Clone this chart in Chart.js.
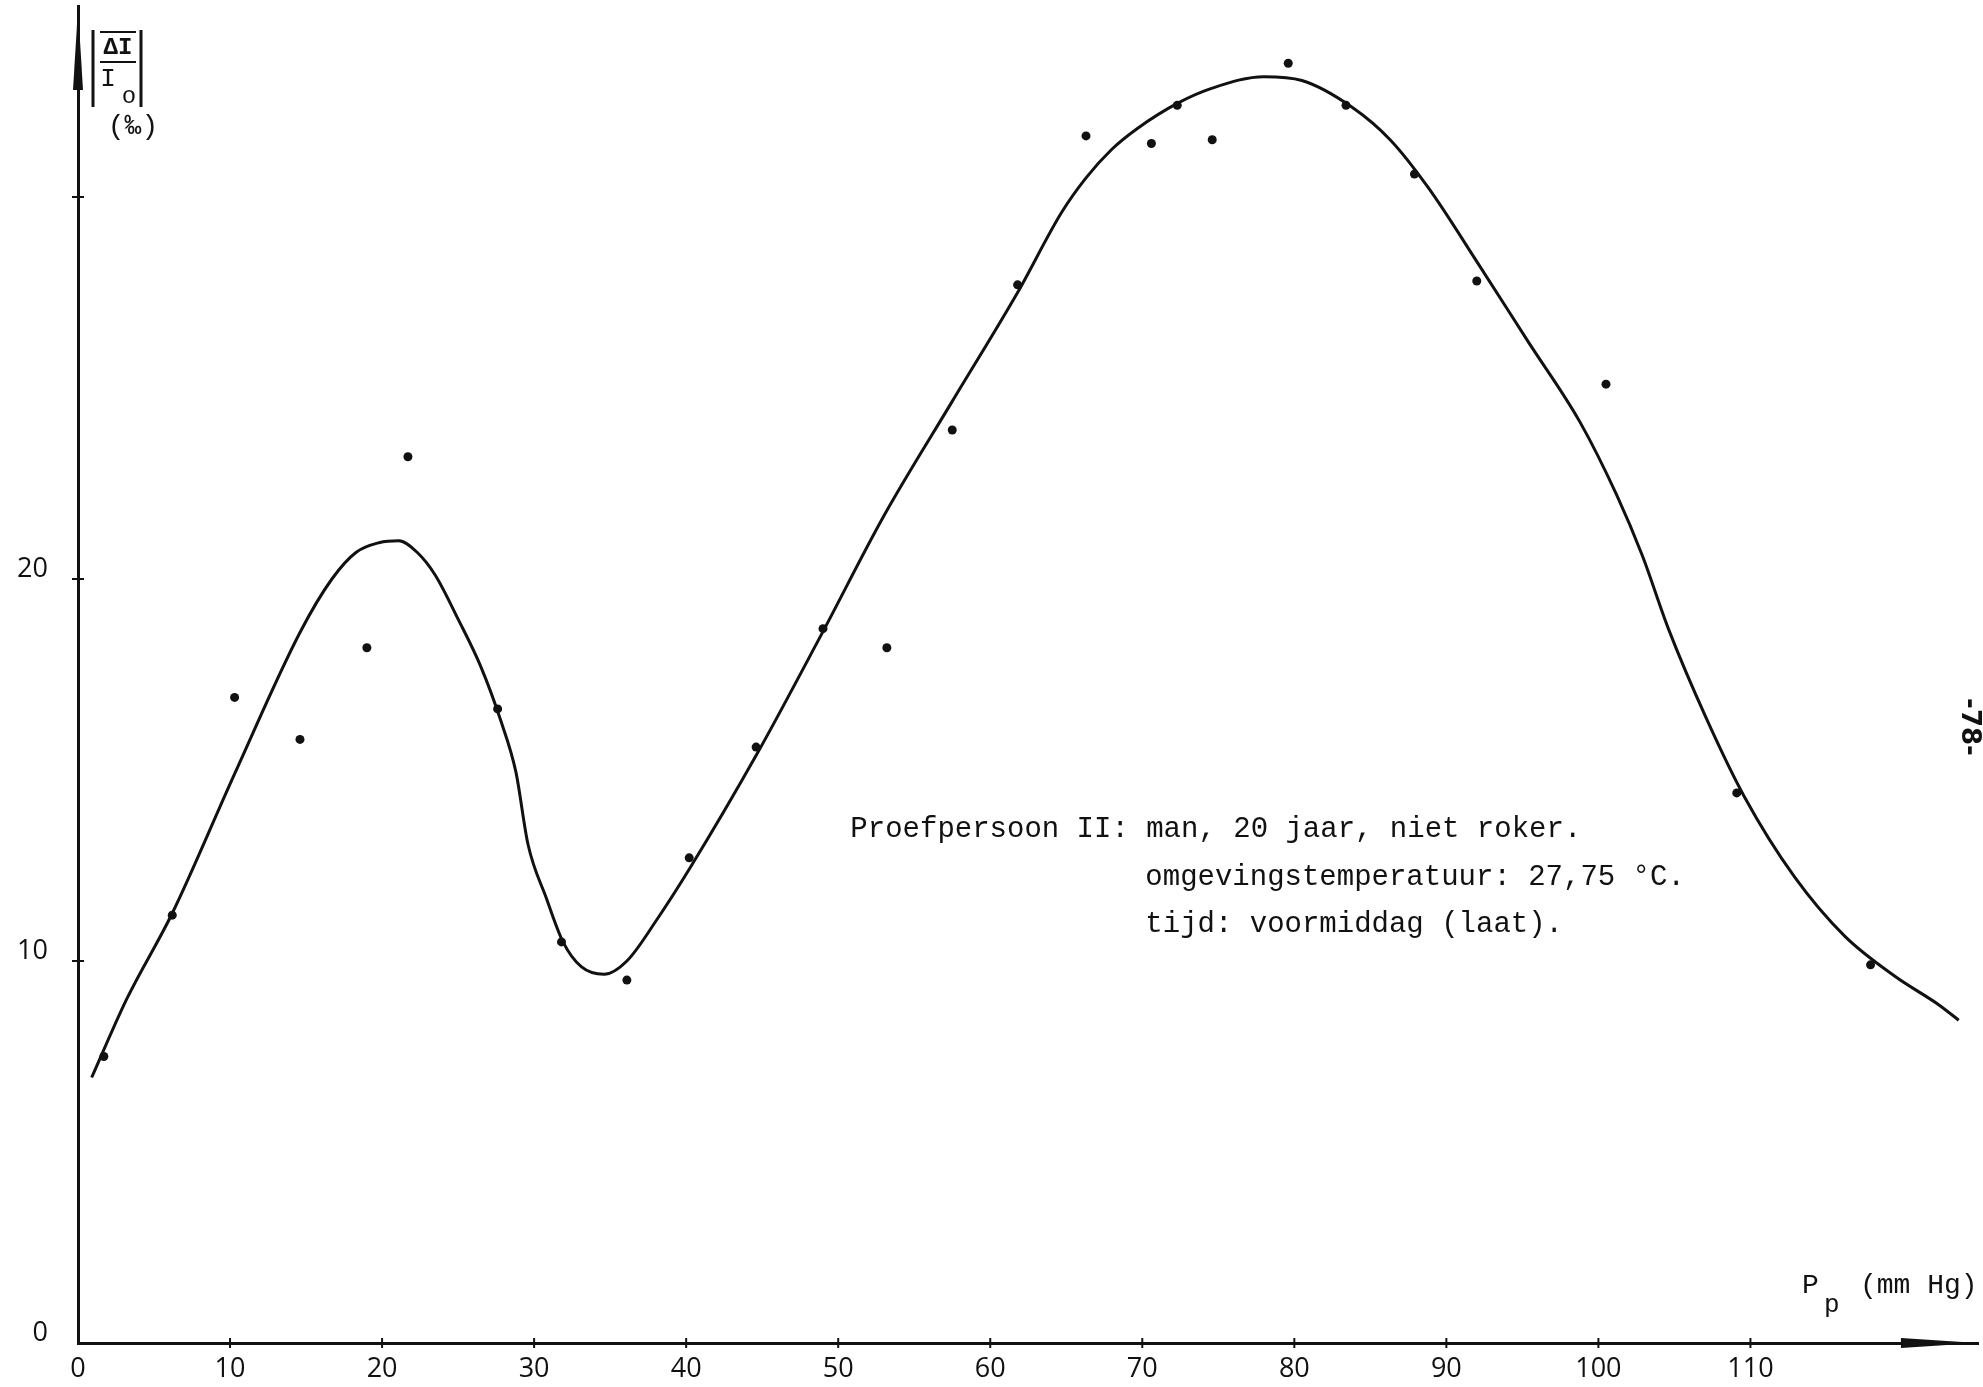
<!DOCTYPE html>
<html>
<head>
<meta charset="utf-8">
<title>Proefpersoon II</title>
<script src="https://cdn.jsdelivr.net/npm/chart.js@4.4.1/dist/chart.umd.min.js"></script>
<style>
  html, body { margin: 0; padding: 0; background: #ffffff; }
  #wrap { width: 1983px; height: 1387px; position: relative; }
</style>
</head>
<body>
<div id="wrap"><canvas id="c" width="1983" height="1387"></canvas></div>
<script>
// Measured points: pressure P_p (mm Hg) against |ΔI / I0| (per mille)
const obsX = [1.7, 6.2, 10.3, 14.6, 19.0, 21.7, 27.6, 31.8, 36.1, 40.2, 44.6, 49.0, 53.2,
              57.5, 61.8, 66.3, 70.6, 72.3, 74.6, 79.6, 83.4, 87.9, 92.0, 100.5, 109.1, 117.9];
const obsY = [7.5, 11.2, 16.9, 15.8, 18.2, 23.2, 16.6, 10.5, 9.5, 12.7, 15.6, 18.7, 18.2,
              23.9, 27.7, 31.6, 31.4, 32.4, 31.5, 33.5, 32.4, 30.6, 27.8, 25.1, 14.4, 9.9];

// Hand-drawn smoothing curve through the measurements
const curveX = [0.9, 3.2, 6.2, 10.3, 14.6, 16.7, 18.3, 19.8, 21.1, 22.3, 23.5, 25.0, 26.5,
                27.8, 28.8, 29.6, 30.8, 31.9, 33.1, 34.6, 36.1, 38.1, 40.2, 44.7, 48.9,
                53.0, 57.5, 61.8, 64.7, 66.3, 68.0, 69.7, 72.3, 74.6, 78.0, 80.5, 83.8,
                86.3, 88.8, 92.1, 95.4, 98.8, 101.2, 102.9, 104.6, 107.1, 109.6, 112.9,
                116.2, 119.5, 122.4, 123.7];
const curveY = [6.95, 9.0, 11.25, 14.9, 18.6, 20.0, 20.7, 20.95, 21.0, 20.7, 20.1, 18.95,
                17.7, 16.3, 14.95, 13.05, 11.65, 10.5, 9.85, 9.65, 10.0, 11.1, 12.4, 15.45,
                18.55, 21.65, 24.65, 27.5, 29.6, 30.5, 31.25, 31.8, 32.45, 32.85, 33.15,
                33.05, 32.35, 31.5, 30.25, 28.25, 26.2, 24.1, 22.2, 20.6, 18.7, 16.35, 14.3,
                12.2, 10.65, 9.6, 8.85, 8.45];

// Axis ticks
const xTickValues = [0, 10, 20, 30, 40, 50, 60, 70, 80, 90, 100, 110];
const yTickLabels = [0, 10, 20];
const yTickMarks = [10, 20, 30];

const annotationLines = [
  'Proefpersoon II: man, 20 jaar, niet roker.',
  'omgevingstemperatuur: 27,75 °C.',
  'tijd: voormiddag (laat).'
];

const INK = '#111111';
const MONO = '"Liberation Mono", "DejaVu Sans Mono", monospace';

// Axis decorations: crossing tick marks, arrow heads, axis titles, notes
const decorations = {
  id: 'decorations',
  afterDraw(chart) {
    const ctx = chart.ctx;
    const xs = chart.scales.x, ys = chart.scales.y;
    const x0 = xs.getPixelForValue(0), y0 = ys.getPixelForValue(0);
    ctx.save();
    ctx.strokeStyle = INK;
    ctx.fillStyle = INK;
    ctx.lineWidth = 2;

    // tick marks crossing the axes
    xTickValues.forEach(v => {
      if (v === 0) return;
      const px = xs.getPixelForValue(v);
      ctx.beginPath(); ctx.moveTo(px, y0 - 5); ctx.lineTo(px, y0 + 5); ctx.stroke();
    });
    yTickMarks.forEach(v => {
      const py = ys.getPixelForValue(v);
      ctx.beginPath(); ctx.moveTo(x0 - 6, py); ctx.lineTo(x0 + 6, py); ctx.stroke();
    });

    // arrow on the vertical axis
    const yTop = ys.getPixelForValue(35) + 2;
    ctx.beginPath();
    ctx.moveTo(x0, yTop);
    ctx.lineTo(x0 + 5, yTop + 82);
    ctx.lineTo(x0 - 5, yTop + 82);
    ctx.closePath(); ctx.fill();

    // arrow on the horizontal axis
    const xEnd = xs.getPixelForValue(125) - 1;
    const xBase = xs.getPixelForValue(119.9);
    ctx.beginPath();
    ctx.moveTo(xBase, y0 - 5);
    ctx.lineTo(xEnd, y0);
    ctx.lineTo(xBase, y0 + 5);
    ctx.closePath(); ctx.fill();

    // vertical axis title |ΔI / I0| (‰)
    ctx.lineWidth = 3;
    ctx.beginPath(); ctx.moveTo(93, 30); ctx.lineTo(93, 107); ctx.stroke();
    ctx.beginPath(); ctx.moveTo(141, 30); ctx.lineTo(141, 107); ctx.stroke();
    ctx.lineWidth = 2;
    ctx.beginPath(); ctx.moveTo(100, 32); ctx.lineTo(136, 32); ctx.stroke();
    ctx.beginPath(); ctx.moveTo(100, 62); ctx.lineTo(136, 62); ctx.stroke();
    ctx.textAlign = 'center';
    ctx.textBaseline = 'middle';
    ctx.font = 'bold 24px ' + MONO;
    ctx.fillText('ΔI', 118, 48);
    ctx.font = '26px ' + MONO;
    ctx.fillText('I', 108, 79);
    ctx.font = '24px ' + MONO;
    ctx.fillText('o', 129, 97);
    ctx.font = '28px ' + MONO;
    ctx.fillText('(‰)', 133, 127);

    // horizontal axis title P_p (mm Hg)
    ctx.textAlign = 'left';
    ctx.textBaseline = 'alphabetic';
    ctx.font = '28px ' + MONO;
    ctx.fillText('P', 1802, 1293);
    ctx.font = '26px ' + MONO;
    ctx.fillText('p', 1824, 1312);
    ctx.font = '28px ' + MONO;
    ctx.fillText('(mm Hg)', 1860, 1293);

    // notes about the subject
    ctx.font = '29px ' + MONO;
    ctx.textBaseline = 'middle';
    ctx.fillText(annotationLines[0], xs.getPixelForValue(50.8), ys.getPixelForValue(13.45));
    ctx.fillText(annotationLines[1], xs.getPixelForValue(70.2), ys.getPixelForValue(12.2));
    ctx.fillText(annotationLines[2], xs.getPixelForValue(70.2), ys.getPixelForValue(10.95));

    // page number
    ctx.translate(1969, 727);
    ctx.rotate(Math.PI / 2);
    ctx.textAlign = 'center';
    ctx.font = 'bold 26px "DejaVu Sans", sans-serif';
    ctx.fillText('-78-', 0, 0);
    ctx.restore();
  }
};

new Chart(document.getElementById('c'), {
  type: 'scatter',
  data: {
    datasets: [
      {
        type: 'line',
        data: curveX.map((x, i) => ({ x, y: curveY[i] })),
        borderColor: INK,
        borderWidth: 3,
        pointRadius: 0,
        fill: false,
        cubicInterpolationMode: 'monotone'
      },
      {
        data: obsX.map((x, i) => ({ x, y: obsY[i] })),
        backgroundColor: INK,
        borderColor: INK,
        borderWidth: 0,
        pointRadius: 4.5
      }
    ]
  },
  options: {
    responsive: false,
    animation: false,
    devicePixelRatio: 1,
    layout: { padding: { top: 6, right: 3, left: 0, bottom: 0 } },
    plugins: { legend: { display: false }, tooltip: { enabled: false } },
    scales: {
      x: {
        type: 'linear',
        min: 0, max: 125,
        afterFit(scale) { scale.height = 44; scale.paddingLeft = 0; scale.paddingRight = 0; },
        grid: { display: false, drawTicks: false },
        border: { display: true, color: INK, width: 3 },
        ticks: {
          stepSize: 10,
          padding: 10,
          color: INK,
          maxRotation: 0,
          autoSkip: false,
          font: { family: '"Open Sans", "DejaVu Sans", sans-serif', size: 27 },
          callback: v => (xTickValues.includes(v) ? String(v) : '')
        }
      },
      y: {
        type: 'linear',
        min: 0, max: 35,
        afterFit(scale) { scale.width = 78; scale.paddingTop = 0; scale.paddingBottom = 0; },
        grid: { display: false, drawTicks: false },
        border: { display: true, color: INK, width: 3 },
        ticks: {
          stepSize: 10,
          padding: 30,
          labelOffset: -10,
          color: INK,
          autoSkip: false,
          font: { family: '"Open Sans", "DejaVu Sans", sans-serif', size: 27 },
          callback: v => (yTickLabels.includes(v) ? String(v) : '')
        }
      }
    }
  },
  plugins: [decorations]
});
</script>
</body>
</html>
